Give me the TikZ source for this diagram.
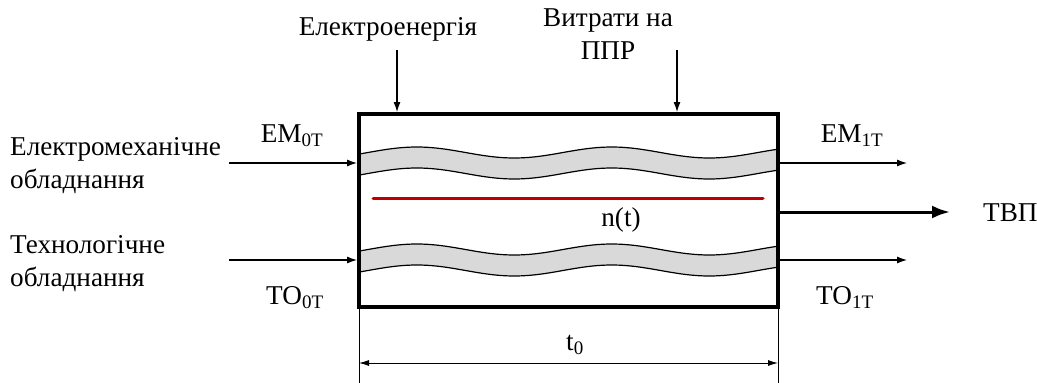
\documentclass[tikz,border=0pt]{standalone}
\usepackage{fontspec}
\setmainfont{Liberation Serif}
\usepackage{tikz}
\usetikzlibrary{arrows.meta, positioning, calc}
\definecolor{bandfill}{RGB}{217, 217, 217}
\definecolor{trendred}{RGB}{192, 0, 0}
\tikzset{
  font=\fontsize{27.2}{33}\selectfont,
  lbl/.style={inner sep=0pt, anchor=base},
  sidelbl/.style={inner sep=0pt, anchor=base west, align=left},
  procbox/.style={
    rectangle, draw, line width=4pt, outer sep=0pt, inner sep=0pt,
    minimum width=419pt, minimum height=193pt
  },
  flowin/.style={line width=1.1pt, -{Latex[length=10pt, width=7pt]}},
  flowout/.style={line width=3pt, -{Latex[length=18pt, width=13pt]}},
  dimline/.style={line width=0.9pt, {Latex[length=10pt, width=6pt]}-{Latex[length=10pt, width=6pt]}},
  extline/.style={line width=0.6pt},
  bandedge/.style={line width=1.2pt}
}
% wavy band through the box, #1 = centre line
\newcommand{\wavyband}[1]{%
  \fill[bandfill] plot[domain=359:778, samples=80] (\x, {#1-10.5-5.5*sin(((\x-368)/195)*360)})
    -- plot[domain=778:359, samples=80] (\x, {#1+10.5-5.5*sin(((\x-368)/195)*360)}) -- cycle;
  \draw[bandedge] plot[domain=359:778, samples=80] (\x, {#1-10.5-5.5*sin(((\x-368)/195)*360)});
  \draw[bandedge] plot[domain=359:778, samples=80] (\x, {#1+10.5-5.5*sin(((\x-368)/195)*360)});
}
\begin{document}
\begin{tikzpicture}[x=1pt, y=-1pt]
  \useasboundingbox (0,0) rectangle (1037,383);

  % Bands and trend line inside the box
  \wavyband{163}
  \wavyband{260}
  \draw[trendred, line width=3pt, line cap=round] (373,198) -- (763,198);

  % Process box
  \node[procbox] (proc) at (568.5,210.5) {};
  \node[lbl] (trend) at (621,226) {n(t)};

  % Top inputs
  \node[lbl] (elec) at (388,35) {Електроенергія};
  \node[lbl, align=center] (ppr) at (608,59) {Витрати на\\ППР};
  \coordinate (elecsrc) at (397,50);
  \coordinate (pprsrc) at (677,50);
  \draw[flowin, shorten >=2pt] (elecsrc) -- (elecsrc |- proc.north);
  \draw[flowin, shorten >=2pt] (pprsrc) -- (pprsrc |- proc.north);

  % Left inputs
  \node[sidelbl] (emeq) at (10,188) {Електромеханічне\\обладнання};
  \node[sidelbl] (toeq) at (10,286) {Технологічне\\обладнання};
  \node[lbl] (emin) at (292,142) {ЕМ\textsubscript{0Т}};
  \node[lbl] (toin) at (295,304) {ТО\textsubscript{0Т}};
  \coordinate (emsrc) at (229,163);
  \coordinate (tosrc) at (229,260);
  \draw[flowin, shorten >=2pt] (emsrc) -- (emsrc -| proc.west);
  \draw[flowin, shorten >=2pt] (tosrc) -- (tosrc -| proc.west);

  % Right outputs
  \node[lbl] (emout) at (852,142) {ЕМ\textsubscript{1Т}};
  \node[lbl] (toout) at (845,304) {ТО\textsubscript{1Т}};
  \coordinate (emdst) at (907,163);
  \coordinate (todst) at (907,260);
  \draw[flowin, shorten <=2pt] (emdst -| proc.east) -- (emdst);
  \draw[flowin, shorten <=2pt] (todst -| proc.east) -- (todst);
  \node[lbl, anchor=base west] (tvp) at (983,221) {ТВП};
  \coordinate (tvpdst) at (950,212);
  \draw[flowout, shorten <=2pt] (tvpdst -| proc.east) -- (tvpdst);

  % Duration dimension
  \draw[extline] (proc.south west) -- ++(0,76);
  \draw[extline] (proc.south east) -- ++(0,76);
  \draw[dimline] ($(proc.south west)+(0,56)$) -- ($(proc.south east)+(0,56)$);
  \node[lbl] (dur) at (575,350) {t\textsubscript{0}};
\end{tikzpicture}
\end{document}
